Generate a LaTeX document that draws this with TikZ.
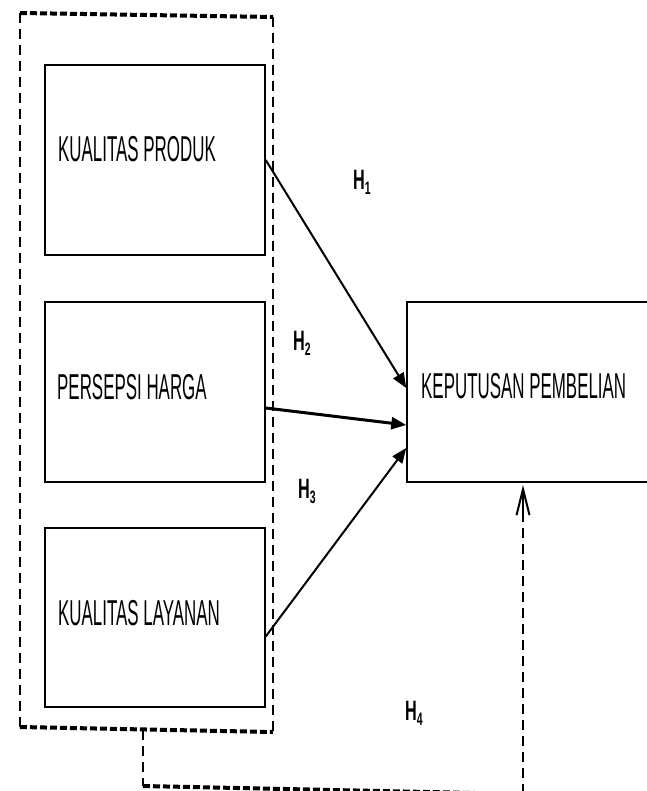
\documentclass[tikz,border=0pt]{standalone}
\usepackage{fontspec}
\usetikzlibrary{arrows.meta}
\newfontfamily\nf[FakeStretch=0.47]{Liberation Sans}
\newfontfamily\hf[FakeStretch=0.58]{Liberation Sans}
\newcommand{\hlab}[1]{{\hf\bfseries\fontsize{28}{28}\selectfont H\raisebox{-5pt}{\fontsize{18}{18}\selectfont #1}}}
\begin{document}
\begin{tikzpicture}[x=1pt,y=-1pt,
  box/.style={draw,line width=1.5pt,inner sep=0pt},
  lab/.style={font=\nf\fontsize{36}{36}\selectfont,inner sep=0pt,anchor=base west},
  hyp/.style={inner sep=0pt,anchor=base west},
  thin dash/.style={line width=2pt,dash pattern=on 10pt off 6pt},
  thick dash/.style={line width=4pt,dash pattern=on 7pt off 3pt},
  arr/.style={line width=2pt,-{Triangle[length=15pt,width=12pt]}}]
\useasboundingbox (0,0) rectangle (646,791);
% outer dashed group
\coordinate (tl) at (20,13);
\coordinate (tr) at (273,17);
\coordinate (bl) at (20,727);
\coordinate (br) at (273,732);
\draw[thick dash] (tl) -- (tr);
\draw[thick dash] (bl) -- (br);
\draw[thin dash] (tl) -- (bl);
\draw[thin dash] (tr) -- (br);
% boxes
\node[box,minimum width=220pt,minimum height=190pt] (kp) at (155,160) {};
\node[box,minimum width=220pt,minimum height=180pt] (ph) at (155,392) {};
\node[box,minimum width=220pt,minimum height=179pt] (kl) at (155,617.5) {};
\node[box,minimum width=243pt,minimum height=180pt] (kep) at (528.5,392) {};
\node[lab] (kpt) at (58,162) {KUALITAS PRODUK};
\node[lab] (pht) at (57,399) {PERSEPSI HARGA};
\node[lab] (klt) at (58,625) {KUALITAS LAYANAN};
\node[lab] (kept) at (421,398) {KEPUTUSAN PEMBELIAN};
% arrows
\draw[arr] (kp.east) -- ([yshift=4pt]kep.west);
\draw[arr,line width=3pt] ([yshift=-16pt]ph.east) -- ([yshift=-33pt]kep.west);
\draw[arr] ([yshift=-19pt]kl.east) -- ([yshift=-56pt]kep.west);
% H4 connector
\coordinate (g4) at (143,730);
\coordinate (c1) at (143,786);
\coordinate (c2) at (523,794);
\coordinate (c3) at (523,794);
\coordinate (c4) at (523,485);
\coordinate (c5) at (523,514);
\draw[thin dash] (g4) -- (c1);
\draw[thick dash] (c1) -- (c2);
\draw[thin dash] (c3) -- (c5);
\draw[line width=2pt,-{Straight Barb[length=26pt,width=13pt,line width=2pt]}] (c5) -- (c4);
% labels
\node[hyp] (h1) at (353,190) {\hlab{1}};
\node[hyp] (h2) at (293,350) {\hlab{2}};
\node[hyp] (h3) at (298,498) {\hlab{3}};
\node[hyp] (h4) at (405,720) {\hlab{4}};
\end{tikzpicture}
\end{document}
